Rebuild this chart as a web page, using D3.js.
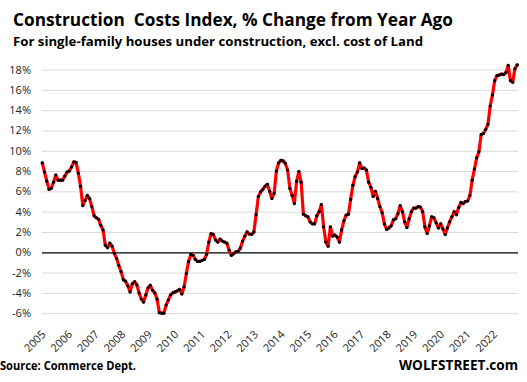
<!DOCTYPE html>
<html>
<head>
<meta charset="utf-8">
<script src="https://cdn.jsdelivr.net/npm/d3@7"></script>
<style>
  html, body { margin: 0; padding: 0; background: #fff; }
  svg { display: block; }
</style>
</head>
<body>
<svg id="chart" width="527" height="382"></svg>
<script>
// ---- Data (year-over-year % change, monthly, Jan 2005 – Aug 2022) ----
const startYear = 2005;
const years = [2005,2006,2007,2008,2009,2010,2011,2012,2013,2014,2015,2016,2017,2018,2019,2020,2021,2022];
const yTicks = [-6,-4,-2,0,2,4,6,8,10,12,14,16,18];
const values = [
  // 2005
  8.8, 7.9, 7.0, 6.2, 6.3, 6.9, 7.6, 7.1, 7.1, 7.1, 7.5, 7.9,
  // 2006
  8.0, 8.4, 8.9, 8.85, 7.8, 6.5, 4.6, 5.1, 5.6, 5.3, 4.5, 3.6,
  // 2007
  3.4, 3.25, 2.65, 2.2, 0.7, 0.45, 0.9, 0.6, -0.1, -0.6, -1.3, -1.9,
  // 2008
  -2.7, -2.85, -3.3, -3.9, -3.1, -2.9, -3.2, -4.0, -4.6, -4.9, -4.2, -3.5,
  // 2009
  -3.25, -3.75, -4.0, -4.6, -5.95, -6.0, -6.0, -5.2, -4.7, -4.2, -4.0, -3.9,
  // 2010
  -3.8, -3.65, -4.1, -3.4, -2.1, -0.9, -0.2, -0.3, -0.7, -0.9, -0.9, -0.8,
  // 2011
  -0.7, -0.2, 1.0, 1.85, 1.75, 1.2, 1.0, 1.3, 1.1, 1.0, 0.9, 0.2,
  // 2012
  -0.3, -0.15, 0.05, 0.1, 0.4, 1.1, 1.6, 2.0, 1.8, 1.75, 2.0, 3.7,
  // 2013
  5.5, 5.95, 6.2, 6.5, 6.7, 6.0, 5.3, 5.8, 8.0, 8.8, 9.05, 9.0,
  // 2014
  8.75, 8.1, 6.3, 5.6, 4.8, 7.0, 7.95, 6.9, 3.75, 3.6, 3.5, 3.0,
  // 2015
  2.8, 2.8, 3.6, 4.0, 4.7, 2.5, 1.0, 0.6, 2.5, 1.6, 1.7, 1.5,
  // 2016
  1.0, 2.2, 3.1, 3.65, 3.75, 5.2, 6.6, 7.45, 7.9, 8.8, 8.25, 8.3,
  // 2017
  8.1, 6.9, 6.4, 5.5, 6.0, 5.3, 4.5, 3.9, 2.8, 2.25, 2.4, 2.6,
  // 2018
  3.2, 3.3, 3.8, 4.6, 4.0, 3.0, 2.45, 3.3, 4.0, 4.35, 4.35, 4.5,
  // 2019
  4.45, 4.0, 2.5, 1.85, 2.6, 3.5, 3.4, 2.9, 2.4, 2.8, 2.3, 1.75,
  // 2020
  2.4, 3.0, 3.5, 4.0, 3.7, 4.4, 4.9, 4.8, 5.0, 5.05, 5.6, 7.1,
  // 2021
  8.2, 9.3, 9.9, 11.6, 11.7, 12.1, 12.6, 14.4, 15.5, 16.9, 17.4, 17.45,
  // 2022
  17.55, 17.5, 17.7, 18.4, 16.9, 16.75, 18.1, 18.45
];
const titleText = "Construction  Costs Index, % Change from Year Ago";
const subtitleText = "For single-family houses under construction, excl. cost of Land";
const sourceText = "Source: Commerce Dept.";
const brandText = "WOLFSTREET.com";

const data = values.map((v, i) => ({ t: startYear + i / 12, v }));

const svg = d3.select("#chart");
const FONT = "'Open Sans', 'Noto Sans', sans-serif";

// ---- Scales ----
const x = d3.scaleLinear()
  .domain([startYear, startYear + (values.length - 1) / 12])
  .range([42.3, 517.2]);
const xLabel = d3.scaleLinear()
  .domain([years[0], years[years.length - 1]])
  .range([46, 497.5]);
const y = d3.scaleLinear().domain([-6, 18]).range([313.2, 69.5]);

// ---- Titles ----
svg.append("text")
  .attr("x", 13).attr("y", 25.5)
  .attr("font-family", FONT).attr("font-weight", "bold")
  .attr("font-size", 17).attr("fill", "#000")
  .attr("textLength", 440).attr("lengthAdjust", "spacingAndGlyphs")
  .style("white-space", "pre")
  .text(titleText);
svg.append("text")
  .attr("x", 13).attr("y", 45.5)
  .attr("font-family", FONT).attr("font-weight", "bold")
  .attr("font-size", 13).attr("fill", "#000")
  .attr("textLength", 410).attr("lengthAdjust", "spacingAndGlyphs")
  .text(subtitleText);

// ---- Y grid + labels ----
const yAxis = d3.axisLeft(y)
  .tickValues(yTicks)
  .tickSize(-(518 - 42))
  .tickPadding(11)
  .tickFormat(d => d + "%");
const gy = svg.append("g").attr("transform", "translate(42,0)").call(yAxis);
gy.select(".domain").remove();
gy.selectAll(".tick line")
  .attr("stroke", d => d === 0 ? "#000" : "#d9d9d9")
  .attr("stroke-width", d => d === 0 ? 1.3 : 1);
gy.selectAll(".tick text")
  .attr("font-family", FONT).attr("font-size", 11).attr("fill", "#222");
// bring zero line on top of grid
gy.selectAll(".tick").filter(d => d === 0).raise();

// ---- X labels ----
const xAxis = d3.axisBottom(xLabel)
  .tickValues(years)
  .tickSize(0)
  .tickFormat(d => String(d));
const gx = svg.append("g").attr("transform", "translate(0,335)").call(xAxis);
gx.select(".domain").remove();
gx.selectAll(".tick text")
  .attr("font-family", FONT).attr("font-size", 11).attr("fill", "#222")
  .attr("text-anchor", "end")
  .attr("x", 0).attr("y", 0).attr("dy", 0)
  .attr("transform", "rotate(-45)");

// ---- Line ----
const line = d3.line().x(d => x(d.t)).y(d => y(d.v));
svg.append("path")
  .datum(data)
  .attr("fill", "none")
  .attr("stroke", "#ff0000")
  .attr("stroke-width", 3.2)
  .attr("stroke-linejoin", "round")
  .attr("stroke-linecap", "round")
  .attr("d", line);

svg.append("g").selectAll("circle")
  .data(data).join("circle")
  .attr("cx", d => x(d.t)).attr("cy", d => y(d.v))
  .attr("r", 1.6).attr("fill", "#000");

// ---- Footer ----
svg.append("text")
  .attr("x", 0).attr("y", 370)
  .attr("font-family", FONT).attr("font-weight", "bold")
  .attr("font-size", 11.5).attr("fill", "#000")
  .attr("textLength", 136).attr("lengthAdjust", "spacingAndGlyphs")
  .text(sourceText);
svg.append("text")
  .attr("x", 399).attr("y", 370)
  .attr("font-family", FONT).attr("font-weight", "bold")
  .attr("font-size", 14.5).attr("fill", "#000")
  .attr("textLength", 119).attr("lengthAdjust", "spacingAndGlyphs")
  .text(brandText);
</script>
</body>
</html>
